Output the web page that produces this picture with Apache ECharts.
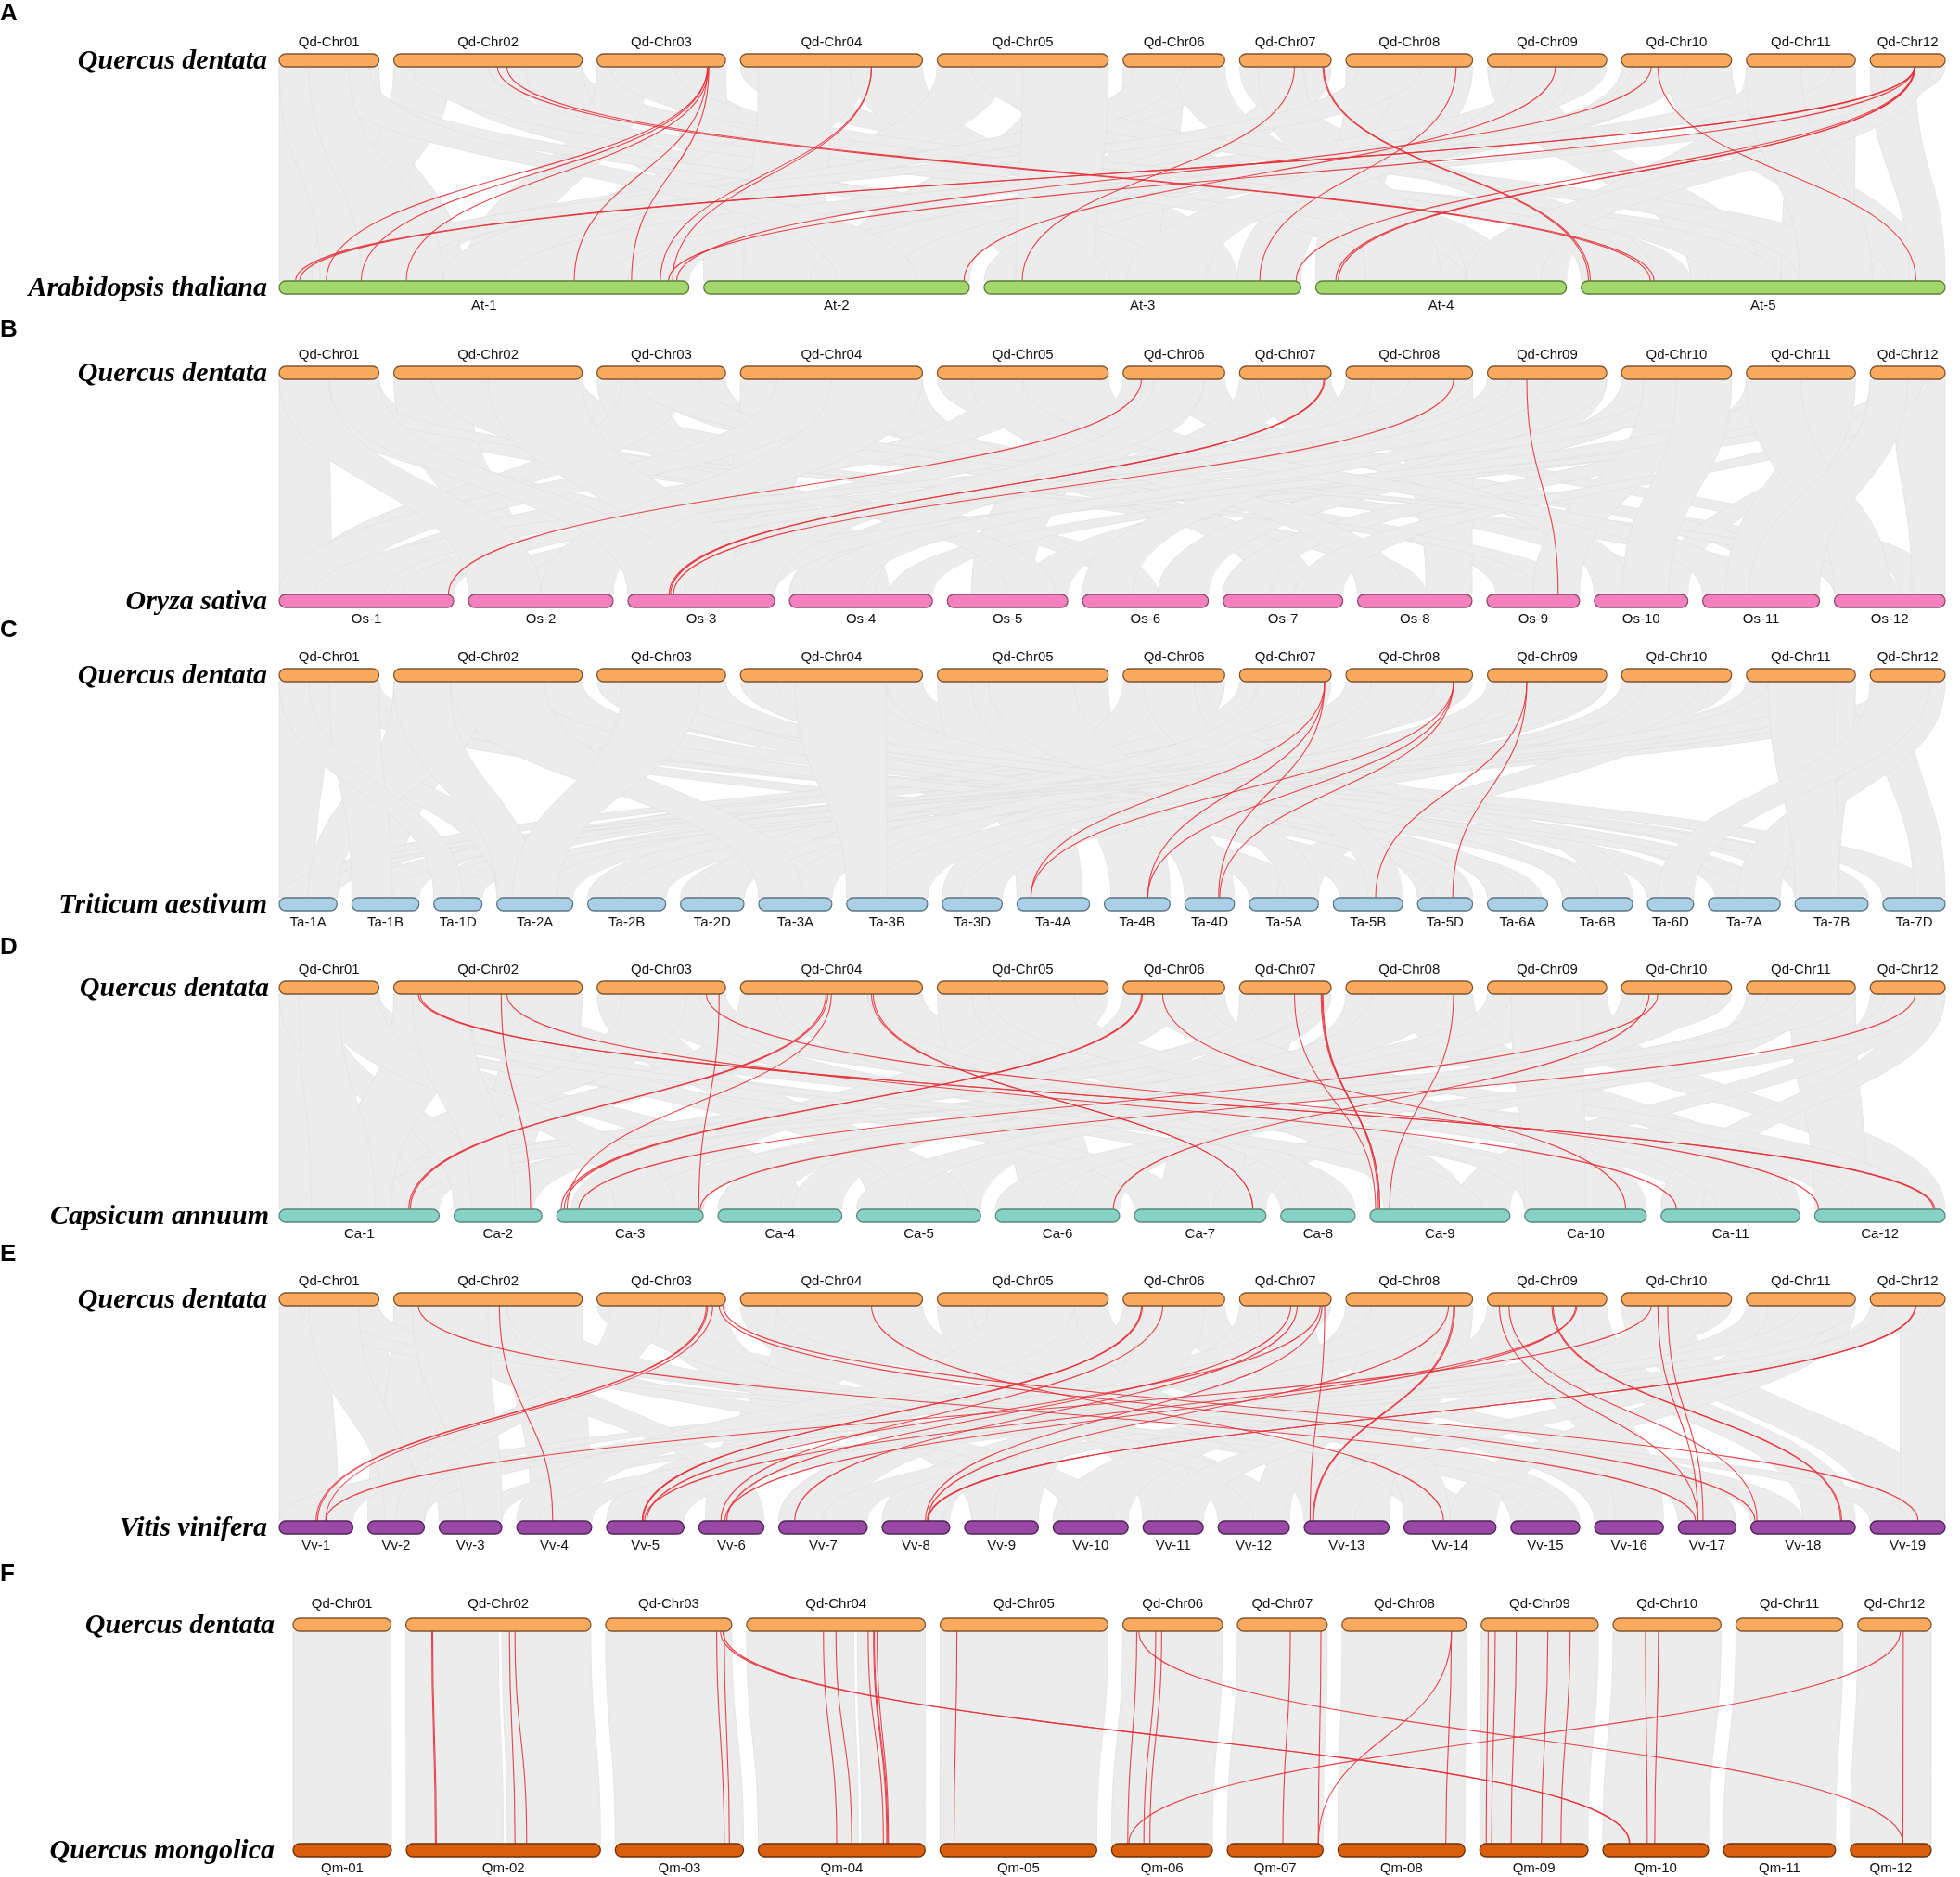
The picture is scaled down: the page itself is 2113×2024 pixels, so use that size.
<!DOCTYPE html>
<html>
<head>
<meta charset="utf-8">
<title>Collinearity of Quercus dentata</title>
<script src="https://cdn.jsdelivr.net/npm/echarts@6/dist/echarts.min.js"></script>
<style>
html, body { margin: 0; padding: 0; background: #fff; }
#main { width: 2113px; height: 2024px; }
</style>
</head>
<body>
<div id="main"></div>
<script>
// chromosome names / lengths (Mb)
var qdNames = ['Qd-Chr01', 'Qd-Chr02', 'Qd-Chr03', 'Qd-Chr04', 'Qd-Chr05', 'Qd-Chr06', 'Qd-Chr07', 'Qd-Chr08', 'Qd-Chr09', 'Qd-Chr10', 'Qd-Chr11', 'Qd-Chr12'];
var qdLen = [48.6, 91.8, 62.6, 88.7, 83.3, 49.5, 44.6, 61.7, 58.1, 53.6, 53.1, 36.5];
var atNames = ['At-1', 'At-2', 'At-3', 'At-4', 'At-5'];
var atLen = [30.4, 19.7, 23.5, 18.6, 27.0];
var osNames = ['Os-1', 'Os-2', 'Os-3', 'Os-4', 'Os-5', 'Os-6', 'Os-7', 'Os-8', 'Os-9', 'Os-10', 'Os-11', 'Os-12'];
var osLen = [43.3, 35.9, 36.4, 35.5, 29.9, 31.2, 29.7, 28.4, 23.0, 23.2, 29.0, 27.5];
var taNames = ['Ta-1A', 'Ta-1B', 'Ta-1D', 'Ta-2A', 'Ta-2B', 'Ta-2D', 'Ta-3A', 'Ta-3B', 'Ta-3D', 'Ta-4A', 'Ta-4B', 'Ta-4D', 'Ta-5A', 'Ta-5B', 'Ta-5D', 'Ta-6A', 'Ta-6B', 'Ta-6D', 'Ta-7A', 'Ta-7B', 'Ta-7D'];
var taLen = [594, 690, 495, 781, 801, 651, 751, 830, 615, 745, 674, 510, 710, 713, 566, 618, 721, 474, 737, 751, 639];
var caNames = ['Ca-1', 'Ca-2', 'Ca-3', 'Ca-4', 'Ca-5', 'Ca-6', 'Ca-7', 'Ca-8', 'Ca-9', 'Ca-10', 'Ca-11', 'Ca-12'];
var caLen = [271, 149, 248, 210, 210, 210, 223, 126, 237, 206, 235, 221];
var vvNames = ['Vv-1', 'Vv-2', 'Vv-3', 'Vv-4', 'Vv-5', 'Vv-6', 'Vv-7', 'Vv-8', 'Vv-9', 'Vv-10', 'Vv-11', 'Vv-12', 'Vv-13', 'Vv-14', 'Vv-15', 'Vv-16', 'Vv-17', 'Vv-18', 'Vv-19'];
var vvLen = [24.0, 18.4, 20.4, 24.4, 25.2, 21.2, 28.8, 22.0, 24.0, 24.4, 19.6, 23.2, 27.6, 30.0, 22.4, 22.4, 18.8, 34.0, 24.4];
var qmNames = ['Qm-01', 'Qm-02', 'Qm-03', 'Qm-04', 'Qm-05', 'Qm-06', 'Qm-07', 'Qm-08', 'Qm-09', 'Qm-10', 'Qm-11', 'Qm-12'];
var qmLen = [47.4, 93.6, 61.8, 80.4, 75.6, 48.6, 46.2, 61.2, 52.2, 51.0, 54.0, 39.0];

// background collinear blocks: [topChr, from, to, bottomChr, from, to] (relative position on chromosome)
var grayA = [
  [0,0,0.6,0,0,0.12],[0,0.5,1,0,0.3,0.45],[1,0,0.3,0,0.08,0.2],[1,0.2,0.6,2,0.1,0.3],[1,0.5,1,4,0.5,0.7],
  [1,0.7,1,1,0.3,0.5],[2,0,0.4,0,0.45,0.6],[2,0.3,0.8,3,0.2,0.45],[2,0.6,1,1,0,0.2],[3,0,0.35,4,0.1,0.3],
  [3,0.3,0.7,0,0.6,0.78],[3,0.6,1,2,0.6,0.8],[4,0,0.4,0,0.75,0.95],[4,0.3,0.7,3,0.55,0.8],[4,0.6,1,1,0.5,0.8],
  [5,0,0.6,2,0.3,0.55],[5,0.4,1,0,0.2,0.35],[6,0,0.5,4,0,0.2],[6,0.4,1,1,0.75,1],[7,0,0.5,3,0,0.2],
  [7,0.4,1,2,0.8,1],[8,0,0.5,4,0.3,0.5],[8,0.4,1,0,0.85,1],[9,0,0.5,2,0,0.15],[9,0.4,1,4,0.75,0.95],
  [10,0,0.6,3,0.8,1],[10,0.4,1,4,0.55,0.75],[11,0,0.6,4,0.9,1],[11,0.4,1,1,0.2,0.35],[5,0.5,1,3,0.4,0.6],
  [0,0.2,0.8,2,0.4,0.6],[1,0.1,0.5,3,0.3,0.6],[2,0.1,0.6,4,0.35,0.55],[3,0.1,0.5,1,0.15,0.45],[4,0.2,0.6,4,0.6,0.85],
  [5,0.1,0.6,0,0.4,0.6],[6,0.2,0.7,3,0.2,0.5],[7,0.1,0.6,0,0.1,0.3],[8,0.2,0.7,2,0.45,0.7],[9,0.1,0.6,1,0.4,0.7],
  [10,0.2,0.8,0,0.55,0.8],[11,0.2,0.8,3,0.6,0.9],[0,0.3,0.9,1,0.5,0.8],[4,0.5,1,2,0.1,0.35],[0,0,0.4,0,0.1,0.3],
  [0,0.3,0.7,0,0.2,0.4],[10,0,0.5,4,0.6,0.8]
];
var grayB = [
  [0,0,0.5,0,0,0.3],[0,0.4,1,5,0.2,0.6],[1,0,0.4,1,0.1,0.4],[1,0.3,0.7,7,0.2,0.6],[1,0.6,1,10,0.3,0.7],
  [2,0,0.5,3,0.3,0.7],[2,0.4,1,8,0.1,0.6],[3,0,0.4,2,0.6,1],[3,0.3,0.7,9,0.2,0.7],[3,0.6,1,6,0.3,0.8],
  [4,0,0.4,11,0.2,0.6],[4,0.3,0.7,0,0.4,0.8],[4,0.6,1,4,0.2,0.7],[5,0,0.6,1,0.5,0.9],[5,0.4,1,10,0.6,1],
  [6,0,0.6,3,0,0.3],[6,0.3,1,11,0.6,1],[7,0,0.5,2,0,0.4],[7,0.4,1,7,0.6,1],[8,0,0.5,0,0.7,1],
  [8,0.4,1,5,0.6,1],[9,0,0.5,4,0.6,1],[9,0.4,1,1,0,0.3],[10,0,0.6,6,0,0.4],[10,0.4,1,3,0.7,1],
  [11,0,0.6,9,0.7,1],[11,0.3,1,11,0.7,1],[0,0.2,0.7,8,0.6,1],[2,0.2,0.7,0,0.1,0.4],[11,0.2,0.8,2,0.3,0.7],
  [0,0.1,0.6,2,0.5,0.9],[1,0.2,0.6,4,0.5,0.9],[2,0.3,0.8,11,0,0.3],[3,0.2,0.6,0,0,0.4],[4,0.2,0.6,7,0,0.4],
  [5,0.2,0.8,3,0.2,0.6],[6,0.2,0.7,9,0,0.4],[7,0.2,0.7,5,0,0.4],[8,0.2,0.8,1,0.3,0.7],[9,0.2,0.7,8,0.5,1],
  [10,0.2,0.8,2,0.6,1],[11,0.2,0.7,6,0.6,1],[4,0.5,1,10,0,0.4],[7,0.5,1,0,0.2,0.6],
  [1,0.5,1,2,0.3,0.8],[3,0.5,1,1,0.5,1],[9,0.5,1,9,0.3,0.8],[10,0.5,1,10,0.2,0.6],[5,0.3,0.8,2,0.6,1],[8,0.5,1,3,0.1,0.5],
  [0,0,0.5,1,0,0.5],[0,0.5,1,2,0,0.4],[10,0,0.5,11,0,0.5],[11,0,0.5,10,0.4,1]
];
var grayC = [
  [0,0,0.5,0,0,0.6],[0,0.3,1,12,0,0.8],[0,0.5,1,15,0.2,0.9],[1,0,0.4,1,0,0.7],[1,0.3,0.7,13,0.1,0.9],
  [1,0.6,1,16,0.1,0.8],[2,0,0.5,17,0,1],[2,0.4,1,18,0.1,0.9],[3,0,0.5,19,0,0.9],[3,0.4,1,20,0,0.9],
  [3,0.3,0.8,14,0,1],[4,0,0.5,9,0,0.9],[4,0.4,1,10,0.1,1],[4,0.2,0.7,11,0,1],[5,0,0.6,6,0,1],
  [5,0.4,1,7,0,1],[6,0,0.6,2,0,1],[6,0.3,1,8,0,1],[7,0,0.5,0,0.3,1],[7,0.4,1,1,0.4,1],
  [8,0,0.5,3,0,0.9],[8,0.4,1,4,0,1],[9,0,0.5,5,0,1],[9,0.4,1,3,0.5,1],[10,0,0.6,0,0.5,1],
  [10,0.4,1,4,0.4,1],[11,0,0.5,20,0.5,1],[11,0.4,1,2,0.3,1],[5,0.2,0.8,16,0.5,1],[9,0.2,0.8,12,0.4,1],
  [0,0.2,0.7,18,0.5,1],[1,0.2,0.7,14,0.3,1],[2,0.2,0.7,15,0,0.6],[3,0.2,0.7,16,0,0.5],[4,0.3,0.8,12,0.5,1],
  [5,0.2,0.7,13,0.5,1],[6,0.2,0.7,5,0.3,1],[7,0.2,0.7,6,0.4,1],[8,0.2,0.7,7,0.3,1],[9,0.2,0.7,8,0.3,1],
  [10,0.2,0.7,1,0,0.6],[11,0.2,0.7,0,0,0.5],[2,0.5,1,19,0.4,1],[8,0.5,1,2,0,0.5],
  [0,0,0.5,3,0,0.6],[1,0,0.5,0,0.5,1],[0,0.5,1,1,0,0.6],[0,0,0.3,2,0,0.6],[1,0,0.3,3,0,0.5],
  [10,0.5,1,19,0,0.6],[11,0.5,1,18,0.4,1],
  [1,0.3,0.8,6,0,0.6],[2,0.2,0.8,3,0.2,0.8],[3,0.3,0.8,7,0,0.5],[10,0.2,0.8,19,0,0.6],[11,0,0.8,17,0.2,1]
];
var grayD = [
  [0,0,0.5,0,0,0.4],[0,0.4,1,3,0.2,0.7],[1,0,0.4,7,0,0.8],[1,0.3,0.8,9,0.2,0.8],[1,0.6,1,1,0.2,0.8],
  [2,0,0.5,4,0.1,0.6],[2,0.4,1,10,0.2,0.7],[3,0,0.5,0,0.5,0.9],[3,0.4,1,11,0.1,0.7],[4,0,0.6,5,0.2,0.8],
  [4,0.4,1,2,0.3,0.8],[4,0.2,0.8,8,0.1,0.7],[5,0,0.6,2,0.1,0.5],[5,0.4,1,9,0.5,1],[6,0,0.6,6,0.2,0.8],
  [6,0.4,1,3,0.6,1],[7,0,0.6,4,0.6,1],[7,0.4,1,10,0.6,1],[8,0,0.6,1,0,0.5],[8,0.4,1,11,0.6,1],
  [9,0,0.6,5,0.6,1],[9,0.4,1,0,0.1,0.5],[10,0,0.6,6,0.6,1],[10,0.4,1,11,0,0.4],[11,0,0.6,8,0.6,1],
  [11,0.4,1,10,0,0.3],[2,0.3,0.8,7,0.6,1],[6,0.3,0.9,0,0.7,1],[3,0.2,0.7,9,0,0.3],[8,0.2,0.8,2,0.7,1],
  [0,0.2,0.7,6,0,0.4],[1,0.2,0.6,4,0.4,0.9],[2,0.2,0.7,0,0.3,0.7],[3,0.2,0.7,7,0.3,0.8],[4,0.3,0.8,10,0.4,0.9],
  [5,0.2,0.8,11,0.3,0.8],[6,0.2,0.8,1,0.3,0.9],[7,0.2,0.8,3,0,0.5],[8,0.2,0.8,9,0,0.5],[9,0.2,0.8,4,0,0.4],
  [10,0.2,0.8,2,0.5,1],[11,0.2,0.8,5,0,0.4],[0,0.5,1,8,0.3,0.8],[10,0.5,1,0,0.4,0.8],
  [0,0,0.5,1,0,0.4],[1,0,0.4,0,0.3,0.7],[0,0.4,1,2,0.4,0.8],[0,0.2,0.6,0,0.2,0.6],[1,0.1,0.4,1,0.2,0.7]
];
var grayE = [
  [0,0,0.5,0,0,0.8],[0,0.4,1,2,0,0.8],[1,0,0.4,1,0,0.9],[1,0.3,0.8,13,0.1,0.8],[1,0.6,1,3,0.2,1],
  [2,0,0.5,17,0,0.5],[2,0.4,1,8,0.1,0.9],[3,0,0.5,11,0,0.8],[3,0.4,1,14,0,1],[3,0.2,0.7,5,0.1,0.8],
  [4,0,0.5,10,0,1],[4,0.4,1,15,0,0.9],[5,0,0.6,4,0,0.9],[5,0.4,1,16,0,1],[6,0,0.6,6,0,0.8],
  [6,0.4,1,0,0.5,1],[7,0,0.6,7,0,1],[7,0.4,1,12,0.3,1],[8,0,0.6,9,0,1],[8,0.4,1,17,0.5,1],
  [9,0,0.6,18,0,1],[9,0.4,1,2,0.5,1],[10,0,0.6,4,0.4,1],[10,0.4,1,13,0.5,1],[11,0,0.6,6,0.5,1],
  [11,0.4,1,18,0.4,1],[1,0.2,0.6,9,0.2,0.8],[9,0.2,0.7,7,0.3,0.9],[4,0.2,0.8,12,0,0.6],[7,0.2,0.8,11,0.5,1],
  [0,0.2,0.7,14,0.3,1],[1,0.2,0.6,5,0.5,1],[2,0.2,0.7,11,0.5,1],[3,0.2,0.7,16,0.3,1],[4,0.3,0.8,3,0,0.8],
  [5,0.2,0.8,8,0.4,1],[6,0.2,0.8,13,0,0.5],[7,0.2,0.8,1,0.3,1],[8,0.2,0.8,15,0.3,1],[9,0.2,0.8,10,0.2,1],
  [10,0.2,0.8,12,0,0.6],[11,0.2,0.8,3,0.3,1],[0,0.5,1,18,0,0.5],[10,0.5,1,0,0,0.6],
  [0,0.3,0.8,1,0.3,0.9],[1,0.1,0.5,2,0.4,1],[2,0.1,0.5,1,0.5,1]
];
var grayF = [
  [0,0,1,0,0,1],[1,0,0.5,1,0,0.5],[1,0.52,1,1,0.52,1],[2,0,1,2,0,1],[3,0,0.6,3,0,0.6],
  [3,0.62,1,3,0.62,1],[4,0,1,4,0,1],[5,0,1,5,0,1],[6,0,1,6,0,1],[7,0,1,7,0,1],
  [8,0,1,8,0,1],[9,0,1,9,0,1],[10,0,1,10,0,1],[11,0,1,11,0,1]
];

// highlighted gene pairs: [topChr, pos, bottomChr, pos]
var redA = [
  [1,0.55,4,0.19],[1,0.60,4,0.20],
  [2,0.86,0,0.115],[2,0.86,0,0.20],[2,0.87,0,0.31],[2,0.86,0,0.72],[2,0.87,0,0.86],
  [3,0.72,0,0.93],[3,0.72,0,0.96],
  [11,0.59,0,0.04],[11,0.60,0,0.05],[11,0.59,0,0.95],
  [6,0.60,2,0.12],[6,0.91,4,0.02],[6,0.92,4,0.025],
  [7,0.87,2,0.87],[8,0.57,1,0.98],
  [9,0.27,0,0.97],[9,0.33,4,0.92],
  [11,0.59,2,0.985],[11,0.59,3,0.08],[11,0.60,3,0.09]
];
var redB = [[5,0.18,0,0.97],[6,0.92,2,0.28],[6,0.93,2,0.29],[7,0.85,2,0.31],[8,0.33,8,0.77]];
var redC = [
  [6,0.93,9,0.19],[6,0.93,10,0.66],[6,0.93,11,0.68],
  [7,0.85,9,0.19],[7,0.85,10,0.66],[7,0.85,11,0.70],
  [8,0.33,13,0.61],[8,0.33,14,0.64]
];
var redD = [
  [1,0.13,11,0.91],[1,0.14,11,0.92],[1,0.60,10,0.11],[1,0.57,1,0.87],[2,0.85,11,0.03],[2,0.95,2,0.97],
  [3,0.47,0,0.81],[3,0.48,0,0.82],[3,0.50,2,0.07],[3,0.72,6,0.90],[3,0.73,6,0.90],
  [5,0.18,2,0.03],[5,0.19,2,0.05],[5,0.39,9,0.83],
  [6,0.60,8,0.04],[6,0.89,8,0.07],[6,0.90,8,0.07],[6,0.91,8,0.06],[7,0.85,8,0.14],
  [9,0.25,5,0.95],[9,0.33,2,0.15],[11,0.60,2,0.98]
];
var redE = [
  [1,0.13,16,0.30],[1,0.56,3,0.48],[2,0.85,0,0.50],[2,0.86,0,0.52],[2,0.90,0,0.63],[2,0.95,17,0.04],[2,0.98,18,0.64],
  [3,0.72,13,0.43],[5,0.18,4,0.46],[5,0.19,4,0.47],[5,0.39,5,0.34],
  [6,0.56,5,0.43],[6,0.63,6,0.18],[6,0.88,4,0.52],[6,0.90,7,0.64],[6,0.93,12,0.07],
  [7,0.81,7,0.67],[7,0.85,12,0.10],[7,0.86,12,0.11],
  [8,0.10,16,0.34],[8,0.18,17,0.06],[8,0.54,17,0.86],[8,0.55,17,0.87],[8,0.74,5,0.40],[8,0.75,4,0.49],
  [9,0.27,0,0.63],[9,0.33,16,0.34],[9,0.42,16,0.43],[11,0.60,7,0.67],[11,0.61,7,0.68]
];
var redF = [
  [1,0.14,1,0.15],[1,0.145,1,0.155],[1,0.56,1,0.56],[1,0.59,1,0.62],
  [2,0.88,2,0.85],[2,0.94,2,0.89],[2,0.91,9,0.25],[2,0.93,9,0.255],
  [3,0.43,3,0.47],[3,0.50,3,0.56],[3,0.68,3,0.75],[3,0.71,3,0.77],[3,0.715,3,0.775],[3,0.73,3,0.78],
  [4,0.10,4,0.09],[5,0.14,5,0.16],[5,0.33,5,0.32],[5,0.39,5,0.38],[5,0.16,11,0.65],
  [6,0.59,6,0.58],[6,0.93,6,0.95],[7,0.88,6,0.95],[7,0.88,7,0.85],
  [8,0.06,8,0.06],[8,0.12,8,0.11],[8,0.30,8,0.29],[8,0.57,8,0.57],[8,0.76,8,0.75],
  [9,0.30,9,0.42],[9,0.42,9,0.49],[11,0.58,5,0.17],[11,0.62,11,0.65]
];

// bar colours per genome
var colors = {
  qd: ['#f9aa5e', '#7d5530'], at: ['#a3d76b', '#5d7f3b'], os: ['#f580c0', '#8c4a6e'],
  ta: ['#a9d0e6', '#5e7584'], ca: ['#86d2c5', '#5a8780'], vv: ['#9a48a6', '#4e2456'],
  qm: ['#da5f0c', '#6b3008']
};

var panels = [
  { letter: 'A', topSp: 'Quercus dentata', botSp: 'Arabidopsis thaliana', top: [qdNames, qdLen, 'qd'], bot: [atNames, atLen, 'at'], gray: grayA, red: redA,
    yTop: 65, yBot: 310, x0: 301, x1: 2097, labY: 15, spX: 288, topDy: -19 },
  { letter: 'B', topSp: 'Quercus dentata', botSp: 'Oryza sativa', top: [qdNames, qdLen, 'qd'], bot: [osNames, osLen, 'os'], gray: grayB, red: redB,
    yTop: 402, yBot: 648, x0: 301, x1: 2097, labY: 356, spX: 288, topDy: -19 },
  { letter: 'C', topSp: 'Quercus dentata', botSp: 'Triticum aestivum', top: [qdNames, qdLen, 'qd'], bot: [taNames, taLen, 'ta'], gray: grayC, red: redC,
    yTop: 728, yBot: 975, x0: 301, x1: 2097, labY: 680, spX: 288, topDy: -19 },
  { letter: 'D', topSp: 'Quercus dentata', botSp: 'Capsicum annuum', top: [qdNames, qdLen, 'qd'], bot: [caNames, caLen, 'ca'], gray: grayD, red: redD,
    yTop: 1065, yBot: 1311, x0: 301, x1: 2097, labY: 1022, spX: 290, topDy: -19 },
  { letter: 'E', topSp: 'Quercus dentata', botSp: 'Vitis vinifera', top: [qdNames, qdLen, 'qd'], bot: [vvNames, vvLen, 'vv'], gray: grayE, red: redE,
    yTop: 1401, yBot: 1647, x0: 301, x1: 2097, labY: 1353, spX: 288, topDy: -19 },
  { letter: 'F', topSp: 'Quercus dentata', botSp: 'Quercus mongolica', top: [qdNames, qdLen, 'qd'], bot: [qmNames, qmLen, 'qm'], gray: grayF, red: redF,
    yTop: 1752, yBot: 1995, x0: 316, x1: 2082, labY: 1698, spX: 296, topDy: -22 }
];

var GAP = 16, BAR_H = 14;

function placeRow(lens, x0, x1) {
  var sum = lens.reduce(function (a, b) { return a + b; }, 0);
  var k = (x1 - x0 - GAP * (lens.length - 1)) / sum;
  var out = [], x = x0;
  lens.forEach(function (l) { out.push([x, x + l * k]); x += l * k + GAP; });
  return out;
}
function at(row, chr, f) { return row[chr][0] + f * (row[chr][1] - row[chr][0]); }

var ribbonData = [], redData = [], barData = [], barInfo = [], graphics = [];
panels.forEach(function (p) {
  var rt = placeRow(p.top[1], p.x0, p.x1), rb = placeRow(p.bot[1], p.x0, p.x1);
  var y1 = p.yTop + BAR_H / 2, y2 = p.yBot - BAR_H / 2;
  p.gray.forEach(function (g) {
    ribbonData.push([at(rt, g[0], g[1]), at(rt, g[0], g[2]), at(rb, g[3], g[4]), at(rb, g[3], g[5]), y1, y2]);
  });
  p.red.forEach(function (r) {
    redData.push([at(rt, r[0], r[1]), at(rb, r[2], r[3]), y1, y2]);
  });
  rt.forEach(function (c, i) {
    barData.push([c[0], c[1], p.yTop]);
    barInfo.push({ name: p.top[0][i], col: colors[p.top[2]], dy: p.topDy });
  });
  rb.forEach(function (c, i) {
    barData.push([c[0], c[1], p.yBot]);
    barInfo.push({ name: p.bot[0][i], col: colors[p.bot[2]], dy: 20 });
  });
  graphics.push({ type: 'text', left: 0, top: p.labY - 13, style: { text: p.letter, font: 'bold 26px "Liberation Sans", Arial, sans-serif', fill: '#000' } });
  [[p.topSp, p.yTop], [p.botSp, p.yBot]].forEach(function (s) {
    graphics.push({ type: 'text', x: p.spX, y: s[1] + 1, style: { text: s[0], font: 'italic bold 30px "Liberation Serif", "Times New Roman", serif', fill: '#000', align: 'right', verticalAlign: 'middle' } });
  });
});

var chart = echarts.init(document.getElementById('main'));
chart.setOption({
  animation: false,
  grid: { left: 0, right: 0, top: 0, bottom: 0 },
  xAxis: { type: 'value', min: 0, max: 2113, show: false },
  yAxis: { type: 'value', min: 0, max: 2024, inverse: true, show: false },
  graphic: graphics,
  series: [
    {
      type: 'custom', name: 'blocks', data: ribbonData, silent: true,
      renderItem: function (params, api) {
        var a1 = api.coord([api.value(0), api.value(4)]), a2 = api.coord([api.value(1), api.value(4)]);
        var b1 = api.coord([api.value(2), api.value(5)]), b2 = api.coord([api.value(3), api.value(5)]);
        var ym = (a1[1] + b1[1]) / 2;
        var d = 'M' + a1[0] + ' ' + a1[1] + ' C' + a1[0] + ' ' + ym + ' ' + b1[0] + ' ' + ym + ' ' + b1[0] + ' ' + b1[1] +
          ' L' + b2[0] + ' ' + b2[1] + ' C' + b2[0] + ' ' + ym + ' ' + a2[0] + ' ' + ym + ' ' + a2[0] + ' ' + a2[1] + ' Z';
        return { type: 'path', shape: { pathData: d }, style: { fill: '#ececec', stroke: '#e1e1e1', lineWidth: 0.8 } };
      }
    },
    {
      type: 'custom', name: 'pairs', data: redData, silent: true,
      renderItem: function (params, api) {
        var a = api.coord([api.value(0), api.value(2)]), b = api.coord([api.value(1), api.value(3)]);
        var ym = (a[1] + b[1]) / 2;
        return { type: 'bezierCurve', shape: { x1: a[0], y1: a[1], x2: b[0], y2: b[1], cpx1: a[0], cpy1: ym, cpx2: b[0], cpy2: ym },
          style: { stroke: '#e5323a', lineWidth: 1.1, fill: null, opacity: 0.9 } };
      }
    },
    {
      type: 'custom', name: 'chromosomes', data: barData, silent: true,
      renderItem: function (params, api) {
        var info = barInfo[params.dataIndex];
        var s = api.coord([api.value(0), api.value(2)]), e = api.coord([api.value(1), api.value(2)]);
        return { type: 'group', children: [
          { type: 'rect', shape: { x: s[0], y: s[1] - BAR_H / 2, width: e[0] - s[0], height: BAR_H, r: BAR_H / 2 },
            style: { fill: info.col[0], stroke: info.col[1], lineWidth: 1.3 } },
          { type: 'text', style: { text: info.name, x: (s[0] + e[0]) / 2, y: s[1] + info.dy, align: 'center', verticalAlign: 'middle',
            font: '15px "Liberation Sans", Arial, sans-serif', fill: '#111' } }
        ] };
      }
    }
  ]
});
</script>
</body>
</html>
